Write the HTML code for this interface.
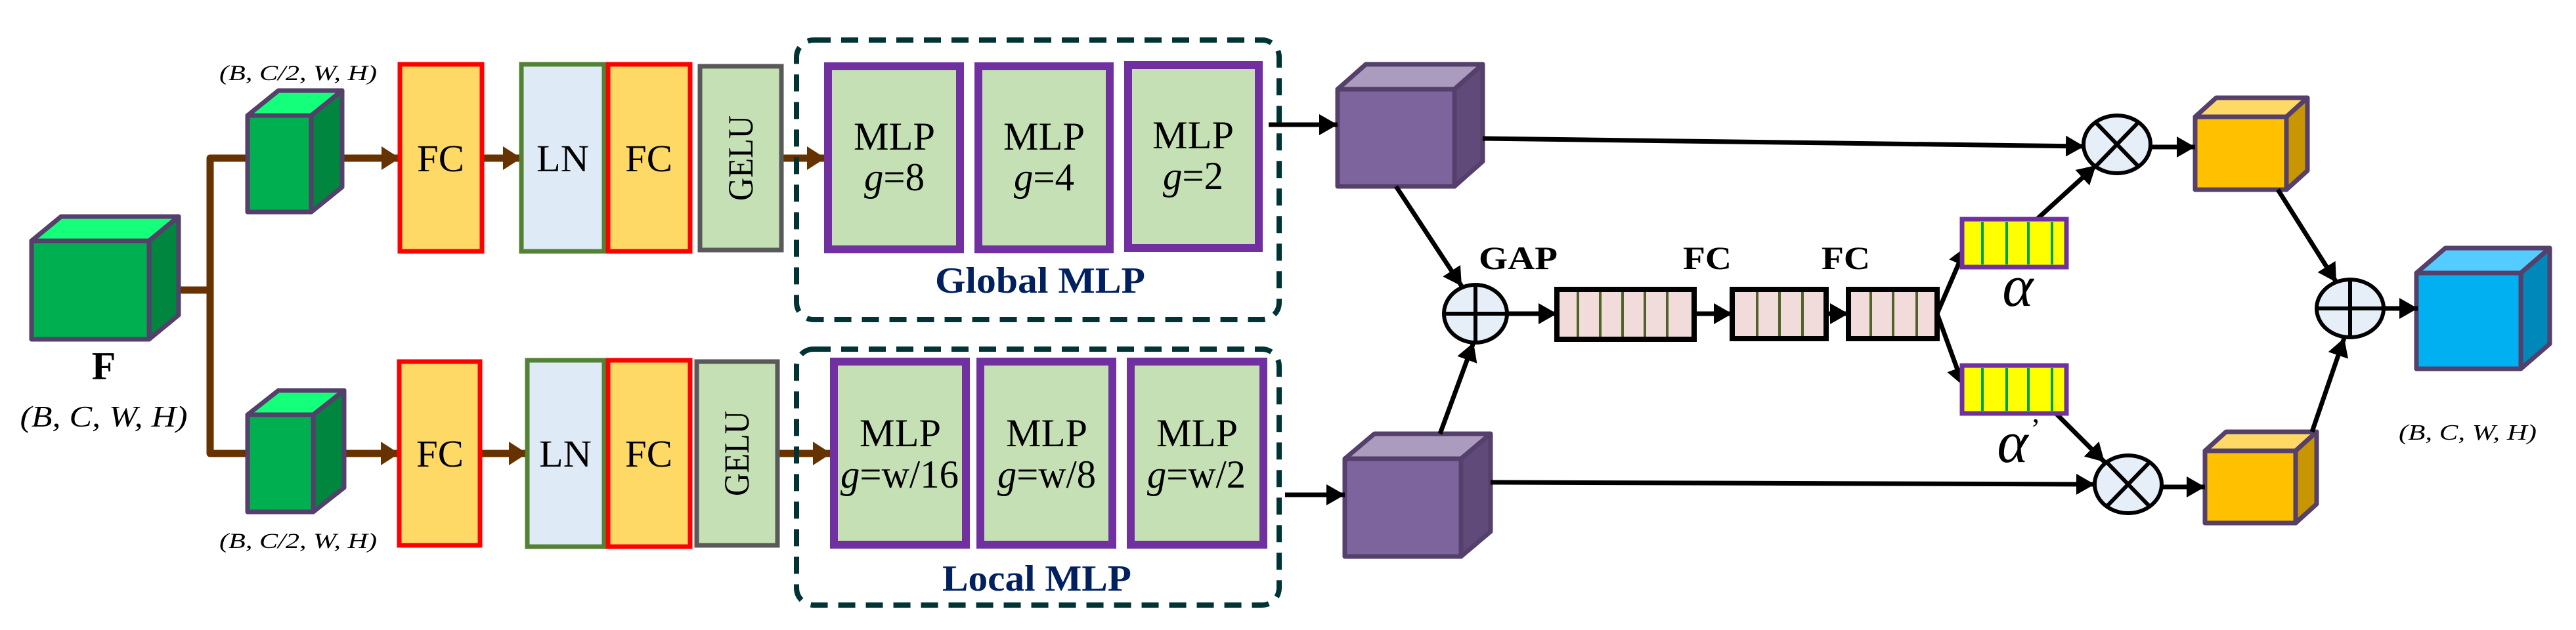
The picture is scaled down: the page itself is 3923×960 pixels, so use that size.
<!DOCTYPE html>
<html><head><meta charset="utf-8"><style>
html,body{margin:0;padding:0;background:#fff;}
svg{display:block;}
svg text{font-family:"Liberation Serif","DejaVu Serif","Noto Serif CJK SC",serif;}
</style></head><body>
<svg width="3923" height="960" viewBox="0 0 3923 960" xmlns="http://www.w3.org/2000/svg">
<defs>
<marker id="ab" markerUnits="userSpaceOnUse" markerWidth="30" markerHeight="40" refX="28" refY="20" orient="auto"><polygon points="0,2 28,20 0,38" fill="#663300"/></marker>
<marker id="ak" markerUnits="userSpaceOnUse" markerWidth="30" markerHeight="36" refX="28" refY="18" orient="auto"><polygon points="0,2 28,18 0,34" fill="#000"/></marker>
</defs>

<g stroke="#663300" stroke-width="11" fill="none" stroke-linejoin="round">
<polyline points="227,442 320,442"/>
<polyline points="377,241 320,241 320,691 377,691"/>
<line x1="521" y1="241" x2="609" y2="241" marker-end="url(#ab)"/>
<line x1="734" y1="241" x2="794" y2="241" marker-end="url(#ab)"/>
<line x1="1190" y1="241" x2="1257" y2="241" marker-end="url(#ab)"/>
<line x1="521" y1="691" x2="608" y2="691" marker-end="url(#ab)"/>
<line x1="731" y1="691" x2="803" y2="691" marker-end="url(#ab)"/>
<line x1="1184" y1="691" x2="1266" y2="691" marker-end="url(#ab)"/>
</g>

<g stroke="#553F6B" stroke-width="7" stroke-linejoin="round">
<polygon points="48,367 93,330 272,330 227,367" fill="#14FF7A"/>
<polygon points="227,367 272,330 272,480 227,517" fill="#00863E"/>
<rect x="48" y="367" width="179" height="150" fill="#00B050"/>
<polygon points="377,176 424,138 521,138 474,176" fill="#14FF7A"/>
<polygon points="474,176 521,138 521,285 474,323" fill="#00863E"/>
<rect x="377" y="176" width="97" height="147" fill="#00B050"/>
<polygon points="377,632 424,595 524,595 477,632" fill="#14FF7A"/>
<polygon points="477,632 524,595 524,743 477,780" fill="#00863E"/>
<rect x="377" y="632" width="100" height="148" fill="#00B050"/>
<polygon points="2037,136 2080,98 2258,98 2215,136" fill="#AB9BBF"/>
<polygon points="2215,136 2258,98 2258,246 2215,284" fill="#5F4A7A"/>
<rect x="2037" y="136" width="178" height="148" fill="#7E649C"/>
<polygon points="2048,699 2093,661 2270,661 2225,699" fill="#AB9BBF"/>
<polygon points="2225,699 2270,661 2270,810 2225,848" fill="#5F4A7A"/>
<rect x="2048" y="699" width="177" height="149" fill="#7E649C"/>
<polygon points="3343,178 3375,149 3514,149 3482,178" fill="#FFD966"/>
<polygon points="3482,178 3514,149 3514,260 3482,289" fill="#C89600"/>
<rect x="3343" y="178" width="139" height="111" fill="#FFC000"/>
<polygon points="3358,687 3390,658 3528,658 3496,687" fill="#FFD966"/>
<polygon points="3496,687 3528,658 3528,768 3496,797" fill="#C89600"/>
<rect x="3358" y="687" width="138" height="110" fill="#FFC000"/>
<polygon points="3680,416 3724,378 3883,378 3839,416" fill="#55CCFF"/>
<polygon points="3839,416 3883,378 3883,524 3839,562" fill="#0088BB"/>
<rect x="3680" y="416" width="159" height="146" fill="#00B0F0"/>
</g>

<g stroke-width="7">
<rect x="609" y="98" width="125" height="285" fill="#FFD966" stroke="#FF0000"/>
<rect x="794" y="98" width="126" height="285" fill="#DEEBF7" stroke="#548235"/>
<rect x="926" y="98" width="125" height="285" fill="#FFD966" stroke="#FF0000"/>
<rect x="1066" y="101" width="124" height="280" fill="#C5E0B4" stroke="#595959"/>
<rect x="608" y="551" width="123" height="280" fill="#FFD966" stroke="#FF0000"/>
<rect x="803" y="549" width="117" height="284" fill="#DEEBF7" stroke="#548235"/>
<rect x="926" y="549" width="125" height="284" fill="#FFD966" stroke="#FF0000"/>
<rect x="1061" y="551" width="123" height="280" fill="#C5E0B4" stroke="#595959"/>
</g>
<g font-size="58" text-anchor="middle" fill="#000">
<text x="671" y="261" textLength="72" lengthAdjust="spacingAndGlyphs">FC</text>
<text x="857" y="261" textLength="80" lengthAdjust="spacingAndGlyphs">LN</text>
<text x="988" y="261" textLength="72" lengthAdjust="spacingAndGlyphs">FC</text>
<text x="670" y="711" textLength="72" lengthAdjust="spacingAndGlyphs">FC</text>
<text x="861" y="711" textLength="80" lengthAdjust="spacingAndGlyphs">LN</text>
<text x="988" y="711" textLength="72" lengthAdjust="spacingAndGlyphs">FC</text>
</g>
<g font-size="54" text-anchor="middle" fill="#000">
<text transform="translate(1146,241) rotate(-90)" y="0" textLength="130" lengthAdjust="spacingAndGlyphs">GELU</text>
<text transform="translate(1140,691) rotate(-90)" y="0" textLength="130" lengthAdjust="spacingAndGlyphs">GELU</text>
</g>

<g fill="none" stroke="#003333" stroke-width="8" stroke-dasharray="26 16">
<rect x="1213" y="61" width="735" height="426" rx="26"/>
<rect x="1213" y="532" width="735" height="390" rx="26"/>
</g>
<g fill="#C5E0B4" stroke="#7030A0" stroke-width="12">
<rect x="1261" y="101" width="201" height="279"/>
<rect x="1490" y="101" width="200" height="279"/>
<rect x="1718" y="99" width="199" height="279"/>
<rect x="1270" y="551" width="201" height="279"/>
<rect x="1493" y="551" width="201" height="279"/>
<rect x="1722" y="551" width="202" height="279"/>
</g>
<g font-size="60" text-anchor="middle" fill="#000">
<text x="1362" y="228" textLength="124" lengthAdjust="spacingAndGlyphs">MLP</text><text x="1362" y="290" textLength="92" lengthAdjust="spacingAndGlyphs"><tspan font-style="italic">g</tspan>=8</text>
<text x="1590" y="228" textLength="124" lengthAdjust="spacingAndGlyphs">MLP</text><text x="1590" y="290" textLength="92" lengthAdjust="spacingAndGlyphs"><tspan font-style="italic">g</tspan>=4</text>
<text x="1817" y="226" textLength="124" lengthAdjust="spacingAndGlyphs">MLP</text><text x="1817" y="288" textLength="92" lengthAdjust="spacingAndGlyphs"><tspan font-style="italic">g</tspan>=2</text>
<text x="1371" y="680" textLength="124" lengthAdjust="spacingAndGlyphs">MLP</text><text x="1370" y="743" textLength="180" lengthAdjust="spacingAndGlyphs"><tspan font-style="italic">g</tspan>=w/16</text>
<text x="1594" y="680" textLength="124" lengthAdjust="spacingAndGlyphs">MLP</text><text x="1594" y="743" textLength="150" lengthAdjust="spacingAndGlyphs"><tspan font-style="italic">g</tspan>=w/8</text>
<text x="1823" y="680" textLength="124" lengthAdjust="spacingAndGlyphs">MLP</text><text x="1822" y="743" textLength="150" lengthAdjust="spacingAndGlyphs"><tspan font-style="italic">g</tspan>=w/2</text>
</g>
<g font-size="56" font-weight="bold" text-anchor="middle" fill="#002060">
<text x="1584" y="446" textLength="320" lengthAdjust="spacingAndGlyphs">Global MLP</text>
<text x="1579" y="900" textLength="288" lengthAdjust="spacingAndGlyphs">Local MLP</text>
</g>

<g stroke="#000" stroke-width="7" fill="none">
<line x1="1932" y1="190" x2="2037" y2="190" marker-end="url(#ak)"/>
<line x1="1957" y1="754" x2="2048" y2="754" marker-end="url(#ak)"/>
<line x1="2258" y1="211" x2="3174" y2="223" marker-end="url(#ak)"/>
<line x1="2270" y1="735" x2="3190" y2="738" marker-end="url(#ak)"/>
<line x1="2126" y1="284" x2="2226" y2="436" marker-end="url(#ak)"/>
<line x1="2193" y1="661" x2="2244" y2="522" marker-end="url(#ak)"/>
<line x1="2296" y1="478" x2="2371" y2="478" marker-end="url(#ak)"/>
<line x1="2580" y1="478" x2="2638" y2="478" marker-end="url(#ak)"/>
<line x1="2781" y1="478" x2="2815" y2="478" marker-end="url(#ak)"/>
<line x1="2950" y1="478" x2="2994" y2="376" marker-end="url(#ak)"/>
<line x1="2950" y1="478" x2="2990" y2="588" marker-end="url(#ak)"/>
<line x1="3102" y1="334" x2="3192" y2="252" marker-end="url(#ak)"/>
<line x1="3127" y1="626" x2="3205" y2="704" marker-end="url(#ak)"/>
<line x1="3275" y1="224" x2="3343" y2="224" marker-end="url(#ak)"/>
<line x1="3292" y1="742" x2="3358" y2="742" marker-end="url(#ak)"/>
<line x1="3469" y1="289" x2="3558" y2="430" marker-end="url(#ak)"/>
<line x1="3521" y1="658" x2="3570" y2="515" marker-end="url(#ak)"/>
<line x1="3630" y1="470" x2="3682" y2="470" marker-end="url(#ak)"/>
</g>

<g stroke="#000" stroke-width="6" fill="#E6EEF8">
<ellipse cx="2247" cy="478" rx="48" ry="44"/>
<ellipse cx="3224" cy="220" rx="51" ry="44"/>
<ellipse cx="3241" cy="738" rx="51" ry="44"/>
<ellipse cx="3579" cy="470" rx="51" ry="44"/>
</g>
<g stroke="#000" stroke-width="6">
<line x1="2199" y1="478" x2="2295" y2="478"/><line x1="2247" y1="434" x2="2247" y2="522"/>
<line x1="3579" y1="426" x2="3579" y2="514"/><line x1="3528" y1="470" x2="3630" y2="470"/>
<line x1="3193" y1="188" x2="3255" y2="252"/><line x1="3255" y1="188" x2="3193" y2="252"/>
<line x1="3210" y1="706" x2="3272" y2="770"/><line x1="3272" y1="706" x2="3210" y2="770"/>
</g>

<g stroke="#000" stroke-width="8" fill="#F2DCDB">
<rect x="2371" y="441" width="209" height="76"/>
<rect x="2638" y="441" width="143" height="75"/>
<rect x="2815" y="441" width="135" height="75"/>
</g>
<g stroke="#4F6228" stroke-width="4">
<line x1="2403" y1="445" x2="2403" y2="513"/><line x1="2437" y1="445" x2="2437" y2="513"/><line x1="2471" y1="445" x2="2471" y2="513"/><line x1="2505" y1="445" x2="2505" y2="513"/><line x1="2539" y1="445" x2="2539" y2="513"/>
<line x1="2676" y1="445" x2="2676" y2="512"/><line x1="2710" y1="445" x2="2710" y2="512"/><line x1="2745" y1="445" x2="2745" y2="512"/>
<line x1="2849" y1="445" x2="2849" y2="512"/><line x1="2883" y1="445" x2="2883" y2="512"/><line x1="2919" y1="445" x2="2919" y2="512"/>
</g>
<g stroke="#7030A0" stroke-width="7" fill="#FFFF00">
<rect x="2988" y="334" width="159" height="73"/>
<rect x="2988" y="557" width="159" height="73"/>
</g>
<g stroke="#00A050" stroke-width="4">
<line x1="3019" y1="338" x2="3019" y2="403"/><line x1="3056" y1="338" x2="3056" y2="403"/><line x1="3089" y1="338" x2="3089" y2="403"/><line x1="3125" y1="338" x2="3125" y2="403"/>
<line x1="3019" y1="561" x2="3019" y2="626"/><line x1="3056" y1="561" x2="3056" y2="626"/><line x1="3089" y1="561" x2="3089" y2="626"/><line x1="3125" y1="561" x2="3125" y2="626"/>
</g>

<g fill="#000" text-anchor="middle">
<text x="454" y="122" font-size="33" font-style="italic" textLength="240" lengthAdjust="spacingAndGlyphs">(B, C/2, W, H)</text>
<text x="454" y="835" font-size="33" font-style="italic" textLength="240" lengthAdjust="spacingAndGlyphs">(B, C/2, W, H)</text>
<text x="158" y="578" font-size="60" font-weight="bold">F</text>
<text x="158" y="650" font-size="46" font-style="italic" textLength="255" lengthAdjust="spacingAndGlyphs">(B, C, W, H)</text>
<text x="3758" y="670" font-size="34" font-style="italic" textLength="210" lengthAdjust="spacingAndGlyphs">(B, C, W, H)</text>
<text x="2312" y="410" font-size="50" font-weight="bold" textLength="120" lengthAdjust="spacingAndGlyphs">GAP</text>
<text x="2600" y="410" font-size="50" font-weight="bold" textLength="74" lengthAdjust="spacingAndGlyphs">FC</text>
<text x="2811" y="410" font-size="50" font-weight="bold" textLength="74" lengthAdjust="spacingAndGlyphs">FC</text>
<text x="3073" y="466" font-size="90" font-style="italic">α</text>
<text x="3065" y="704" font-size="90" font-style="italic">α</text>
<text x="3100" y="668" font-size="44">’</text>
</g>
</svg>
</body></html>
